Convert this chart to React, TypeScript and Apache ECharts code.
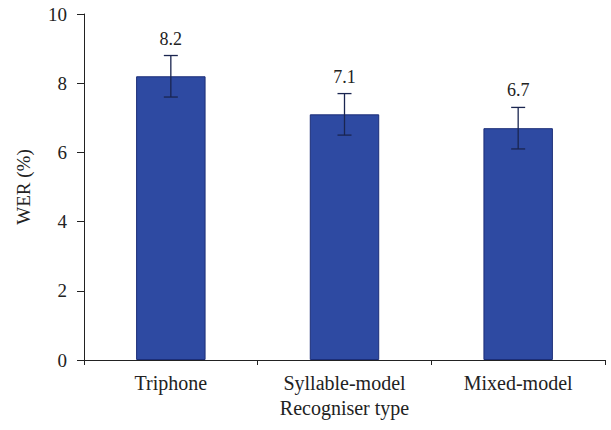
import React, { useEffect, useRef } from "react";
import * as echarts from "echarts";

const categories = ["Triphone", "Syllable-model", "Mixed-model"];
const werValues = [8.2, 7.1, 6.7];
const errLow = [7.6, 6.5, 6.1];
const errHigh = [8.8, 7.7, 7.3];
const yTicks = [0, 2, 4, 6, 8, 10];

const FONT = "Liberation Serif";

export default function App() {
  const ref = useRef<HTMLDivElement>(null);
  useEffect(() => {
    if (!ref.current) return;
    const chart = echarts.init(ref.current, null, { renderer: "svg" });
    const errData = categories.map((c, i) => [i, errLow[i], errHigh[i], werValues[i]]);
    chart.setOption({
      animation: false,
      backgroundColor: "#ffffff",
      grid: { left: 84, right: 6, top: 14, bottom: 70 },
      xAxis: {
        type: "category",
        data: categories,
        name: "Recogniser type",
        nameLocation: "middle",
        nameGap: 36,
        nameTextStyle: { fontFamily: FONT, fontSize: 20, color: "#222" },
        axisLine: { lineStyle: { color: "#222", width: 1 } },
        axisTick: { show: true, inside: false, length: 5, lineStyle: { color: "#222" } },
        axisLabel: { fontFamily: FONT, fontSize: 20, color: "#222", margin: 13 },
      },
      yAxis: {
        type: "value",
        min: yTicks[0],
        max: yTicks[yTicks.length - 1],
        interval: 2,
        name: "WER (%)",
        nameLocation: "middle",
        nameGap: 51,
        nameTextStyle: { fontFamily: FONT, fontSize: 19, color: "#222" },
        axisLine: { show: true, lineStyle: { color: "#222", width: 1 } },
        axisTick: { show: true, length: 7, lineStyle: { color: "#222" } },
        axisLabel: { fontFamily: FONT, fontSize: 19, color: "#222", margin: 17 },
        splitLine: { show: false },
      },
      series: [
        {
          type: "bar",
          data: werValues,
          barWidth: "40%",
          itemStyle: { color: "#2e4aa2", borderColor: "#1c2e78", borderWidth: 1 },
        },
        {
          type: "custom",
          data: errData,
          z: 10,
          renderItem: (params: any, api: any) => {
            const x = api.value(0);
            const lo = api.coord([x, api.value(1)]);
            const hi = api.coord([x, api.value(2)]);
            const cap = 7;
            const style = { stroke: "#1a2550", lineWidth: 1.3 };
            return {
              type: "group",
              children: [
                { type: "line", shape: { x1: hi[0], y1: hi[1], x2: lo[0], y2: lo[1] }, style },
                { type: "line", shape: { x1: hi[0] - cap, y1: hi[1], x2: hi[0] + cap, y2: hi[1] }, style },
                { type: "line", shape: { x1: lo[0] - cap, y1: lo[1], x2: lo[0] + cap, y2: lo[1] }, style },
                {
                  type: "text",
                  x: hi[0],
                  y: hi[1] - 8,
                  style: {
                    text: String(api.value(3)),
                    fontFamily: FONT,
                    fontSize: 18,
                    fill: "#222",
                    align: "center",
                    verticalAlign: "bottom",
                  },
                },
              ],
            };
          },
        },
      ],
    });
    return () => chart.dispose();
  }, []);
  return <div ref={ref} style={{ width: 611, height: 430, position: "absolute", left: 0, top: 0 }} />;
}
